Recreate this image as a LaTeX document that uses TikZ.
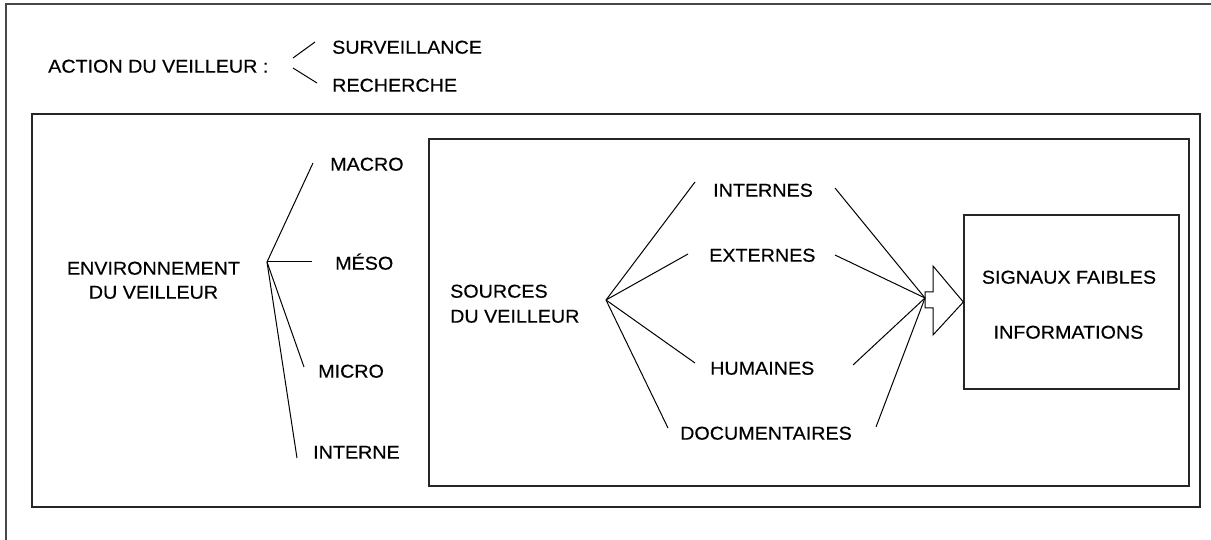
\documentclass[tikz,border=0pt]{standalone}
\usepackage{fontspec}
\setmainfont[FakeStretch=1.06,FakeBold=0.35]{Liberation Sans}
\begin{document}
\begin{tikzpicture}[x=1pt,y=-1pt,
  lbl/.style={inner sep=0pt,text height=13.3pt,text depth=0pt,font=\fontsize{18.6}{23}\selectfont,anchor=west},
  lblc/.style={lbl,anchor=center},
  frameline/.style={draw=black!72,line width=1.6pt},
  boxline/.style={draw=black!85,line width=1.3pt},
  branch/.style={draw=black,line width=1pt},
  fatarrow/.style={draw=black,line width=1pt,fill=white,line join=miter}]
\useasboundingbox (0,0) rectangle (1211,540);
% frames
\draw[frameline] (6,540) -- (6,4) -- (1211,4);
\draw[boxline] (32,114) rectangle (1200,507);
\draw[boxline] (429,139) rectangle (1189,486);
% header
\node[lbl] (action) at (48,66) {ACTION DU VEILLEUR :};
\node[lbl] (surv) at (332,47) {SURVEILLANCE};
\node[lbl] (rech) at (332,85) {RECHERCHE};
\coordinate (a1) at (293,58); \coordinate (a2) at (315,42);
\coordinate (b1) at (293,68); \coordinate (b2) at (317,83);
\draw[branch] (a1) -- (a2);
\draw[branch] (b1) -- (b2);
% environment
\node[lblc] (env1) at (153.5,268) {ENVIRONNEMENT};
\node[lblc] (env2) at (153.5,292) {DU VEILLEUR};
\node[lbl] (macro) at (330,164) {MACRO};
\node[lbl] (meso) at (335,263) {MÉSO};
\node[lbl] (micro) at (318,371) {MICRO};
\node[lbl] (interne) at (313,452) {INTERNE};
\coordinate (envhub) at (267,262);
\coordinate (e1) at (313,163);
\coordinate (e2) at (312,262);
\coordinate (e3) at (304,367);
\coordinate (e4) at (297,458);
\draw[branch] (envhub) -- (e1);
\draw[branch] (envhub) -- (e2);
\draw[branch] (envhub) -- (e3);
\draw[branch] (envhub) -- (e4);
% sources
\node[lbl] (sources) at (450,291) {SOURCES};
\node[lbl] (duv) at (450,316) {DU VEILLEUR};
\node[lbl] (internes) at (713,190) {INTERNES};
\node[lbl] (externes) at (709,255) {EXTERNES};
\node[lbl] (humaines) at (710,368) {HUMAINES};
\node[lbl] (docs) at (680,433) {DOCUMENTAIRES};
\coordinate (srchub) at (606,300);
\coordinate (s1) at (695,182);
\coordinate (s2) at (688,254);
\coordinate (s3) at (695,363);
\coordinate (s4) at (668,428);
\draw[branch] (srchub) -- (s1);
\draw[branch] (srchub) -- (s2);
\draw[branch] (srchub) -- (s3);
\draw[branch] (srchub) -- (s4);
% signal box
\node[draw=black!85,line width=1.3pt,minimum width=215pt,minimum height=174pt,inner sep=0pt] (sig) at (1071.5,302) {};
\node[lblc] (signaux) at (1069,277) {SIGNAUX FAIBLES};
\node[lblc] (infos) at (1068.5,332) {INFORMATIONS};
% arrow
\coordinate (conv) at (925,298);
\draw[fatarrow] (925,292) -- (933,292) -- (933,266) -- (sig.west) -- (933,335) -- (933,308) -- (925,308) -- cycle;
\coordinate (r1) at (835,188);
\coordinate (r2) at (835,255);
\coordinate (r3) at (853,365);
\coordinate (r4) at (876,427);
\draw[branch] (r1) -- (conv);
\draw[branch] (r2) -- (conv);
\draw[branch] (r3) -- (conv);
\draw[branch] (r4) -- (conv);
\end{tikzpicture}
\end{document}
